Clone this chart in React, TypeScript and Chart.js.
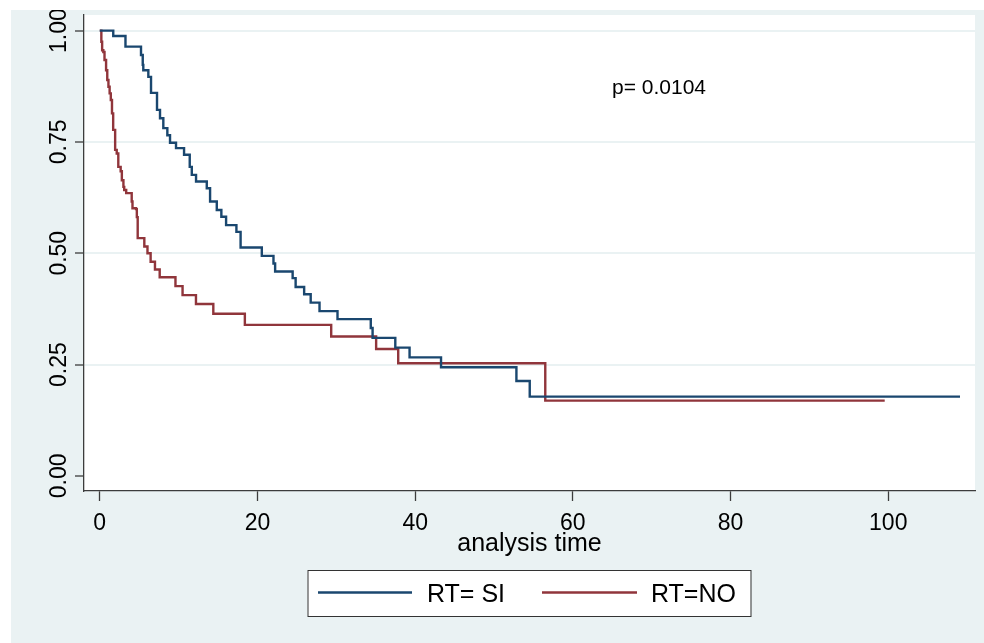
import React, { useEffect, useRef } from "react";
import { Chart, registerables } from "chart.js";

Chart.register(...registerables);

// Kaplan-Meier step data (time of each step, survival after the step)
const siTimes = [0, 1.71, 3.26, 5.23, 5.45, 5.52, 6.16, 6.5, 7.26, 7.64, 8.06, 8.57, 8.91, 9.67, 10.69, 11.41, 11.67, 12.21, 13.57, 13.99, 14.84, 15.42, 16.02, 17.33, 17.86, 20.55, 22.03, 22.24, 24.46, 24.84, 25.92, 26.75, 27.87, 30.15, 34.37, 34.6, 37.48, 39.29, 43.28, 52.84, 54.53, 109.1];
const siSurv = [1, 0.988, 0.964, 0.945, 0.923, 0.911, 0.896, 0.86, 0.822, 0.803, 0.781, 0.765, 0.748, 0.736, 0.721, 0.694, 0.676, 0.661, 0.646, 0.616, 0.597, 0.582, 0.563, 0.548, 0.513, 0.494, 0.477, 0.459, 0.444, 0.424, 0.408, 0.389, 0.37, 0.352, 0.332, 0.31, 0.288, 0.266, 0.244, 0.213, 0.178, 0.178];

const noTimes = [0, 0.2, 0.3, 0.45, 0.6, 0.8, 0.95, 1.1, 1.25, 1.4, 1.55, 1.7, 1.95, 2.15, 2.35, 2.65, 2.8, 3.0, 3.1, 3.35, 4.05, 4.15, 4.6, 4.7, 4.81, 5.65, 6.05, 6.45, 7.0, 7.6, 9.6, 10.5, 12.2, 14.4, 18.4, 29.35, 35.05, 37.85, 56.5, 99.55];
const noSurv = [1, 0.975, 0.956, 0.952, 0.934, 0.911, 0.889, 0.874, 0.859, 0.844, 0.814, 0.777, 0.732, 0.724, 0.694, 0.684, 0.664, 0.649, 0.642, 0.635, 0.616, 0.601, 0.599, 0.581, 0.534, 0.515, 0.5, 0.481, 0.4635, 0.446, 0.426, 0.406, 0.386, 0.364, 0.339, 0.313, 0.285, 0.253, 0.169, 0.169];

const seriesLabels = ["RT= SI", "RT=NO"];
const xTicks = [0, 20, 40, 60, 80, 100];
const yTicks = [0, 0.25, 0.5, 0.75, 1];
const yTickLabels = ["0.00", "0.25", "0.50", "0.75", "1.00"];
const xTitle = "analysis time";
const pText = "p= 0.0104";

const BLUE = "#1a476f";
const RED = "#90353b";
const BG = "#eaf2f3";
const AXIS = "#3c3c3c";
const FONT = '"Liberation Sans", Arial, Helvetica, sans-serif';
const W = 984;
const H = 643;

export default function App() {
  const ref = useRef<HTMLCanvasElement | null>(null);

  useEffect(() => {
    const canvas = ref.current;
    if (!canvas) return;

    const decor = {
      id: "decor",
      beforeDraw(chart: any) {
        const { ctx, chartArea } = chart;
        ctx.save();
        ctx.fillStyle = "#ffffff";
        ctx.fillRect(0, 0, W, H);
        ctx.fillStyle = BG;
        ctx.fillRect(11, 10, W - 11, H - 10);
        ctx.fillStyle = "#ffffff";
        ctx.fillRect(chartArea.left, chartArea.top, chartArea.right - chartArea.left, chartArea.bottom - chartArea.top);
        ctx.restore();
      },
      afterDraw(chart: any) {
        const { ctx, chartArea } = chart;
        const ys = chart.scales.y;
        const xs = chart.scales.x;
        ctx.save();
        // rotated y tick labels
        ctx.fillStyle = "#000";
        ctx.font = `23px ${FONT}`;
        ctx.textAlign = "center";
        ctx.textBaseline = "alphabetic";
        yTicks.forEach((v, i) => {
          const py = ys.getPixelForValue(v);
          ctx.save();
          ctx.translate(65.5, py);
          ctx.rotate(-Math.PI / 2);
          ctx.fillText(yTickLabels[i], 0, 0);
          ctx.restore();
        });
        // x title
        ctx.font = `25px ${FONT}`;
        ctx.textAlign = "center";
        ctx.fillText(xTitle, (chartArea.left + chartArea.right) / 2, 551);
        // p value annotation
        ctx.font = `21px ${FONT}`;
        ctx.textAlign = "left";
        ctx.fillText(pText, 612, 94);
        // legend
        const lx = 307.5, ly = 570, lw = 443, lh = 46;
        ctx.fillStyle = "#ffffff";
        ctx.fillRect(lx, ly, lw, lh);
        ctx.strokeStyle = "#333";
        ctx.lineWidth = 1;
        ctx.strokeRect(lx + 0.5, ly + 0.5, lw, lh);
        const items = [
          { x1: 318, x2: 412, tx: 427 },
          { x1: 542, x2: 637, tx: 651 },
        ];
        chart.data.datasets.forEach((ds: any, i: number) => {
          const it = items[i];
          ctx.strokeStyle = ds.borderColor;
          ctx.lineWidth = 2.4;
          ctx.beginPath();
          ctx.moveTo(it.x1, 592.5);
          ctx.lineTo(it.x2, 592.5);
          ctx.stroke();
          ctx.fillStyle = "#000";
          ctx.font = `25px ${FONT}`;
          ctx.textAlign = "left";
          ctx.fillText(ds.label, it.tx, 602);
        });
        // cropped borders of the original image
        ctx.fillStyle = "#ffffff";
        ctx.fillRect(0, 0, W, 10);
        ctx.fillRect(0, 0, 11, H);
        ctx.restore();
        void xs;
      },
    };

    const chart = new Chart(canvas, {
      type: "line",
      data: {
        datasets: [
          {
            label: seriesLabels[0],
            data: siTimes.map((t, i) => ({ x: t, y: siSurv[i] })),
            borderColor: BLUE,
            backgroundColor: BLUE,
            borderWidth: 2.4,
            stepped: true,
            pointRadius: 0,
            fill: false,
          },
          {
            label: seriesLabels[1],
            data: noTimes.map((t, i) => ({ x: t, y: noSurv[i] })),
            borderColor: RED,
            backgroundColor: RED,
            borderWidth: 2.4,
            stepped: true,
            pointRadius: 0,
            fill: false,
          },
        ],
      },
      options: {
        animation: false,
        responsive: false,
        devicePixelRatio: 1,
        events: [],
        layout: { padding: { left: 0, top: 15, right: 9, bottom: 0 } },
        scales: {
          x: {
            type: "linear",
            min: -2,
            max: 111,
            afterBuildTicks: (s: any) => {
              s.ticks = xTicks.map((v) => ({ value: v }));
            },
            afterFit: (s: any) => {
              s.height = H - 491;
            },
            grid: {
              drawOnChartArea: false,
              drawTicks: true,
              tickLength: 10,
              tickColor: AXIS,
              tickWidth: 1.3,
            },
            border: { display: true, color: AXIS, width: 1.3 },
            ticks: {
              font: { family: FONT, size: 23 },
              color: "#000",
              padding: 9,
              maxRotation: 0,
              minRotation: 0,
              autoSkip: false,
              callback: (v: any) => String(v),
            },
          },
          y: {
            type: "linear",
            min: -0.034,
            max: 1.035,
            afterBuildTicks: (s: any) => {
              s.ticks = yTicks.map((v) => ({ value: v }));
            },
            afterFit: (s: any) => {
              s.width = 84;
            },
            grid: {
              color: (c: any) => (c.tick && c.tick.value === 0 ? "rgba(0,0,0,0)" : BG),
              lineWidth: 2,
              drawTicks: true,
              tickLength: 9,
              tickColor: AXIS,
              tickWidth: 1.3,
            },
            border: { display: true, color: AXIS, width: 1.3 },
            ticks: { display: false },
          },
        },
        plugins: {
          legend: { display: false },
          tooltip: { enabled: false },
          title: { display: false },
        },
      },
      plugins: [decor],
    } as any);

    return () => chart.destroy();
  }, []);

  return (
    <div style={{ position: "fixed", left: 0, top: 0, width: W, height: H }}>
      <canvas ref={ref} width={W} height={H} style={{ width: W, height: H, display: "block" }} />
    </div>
  );
}
